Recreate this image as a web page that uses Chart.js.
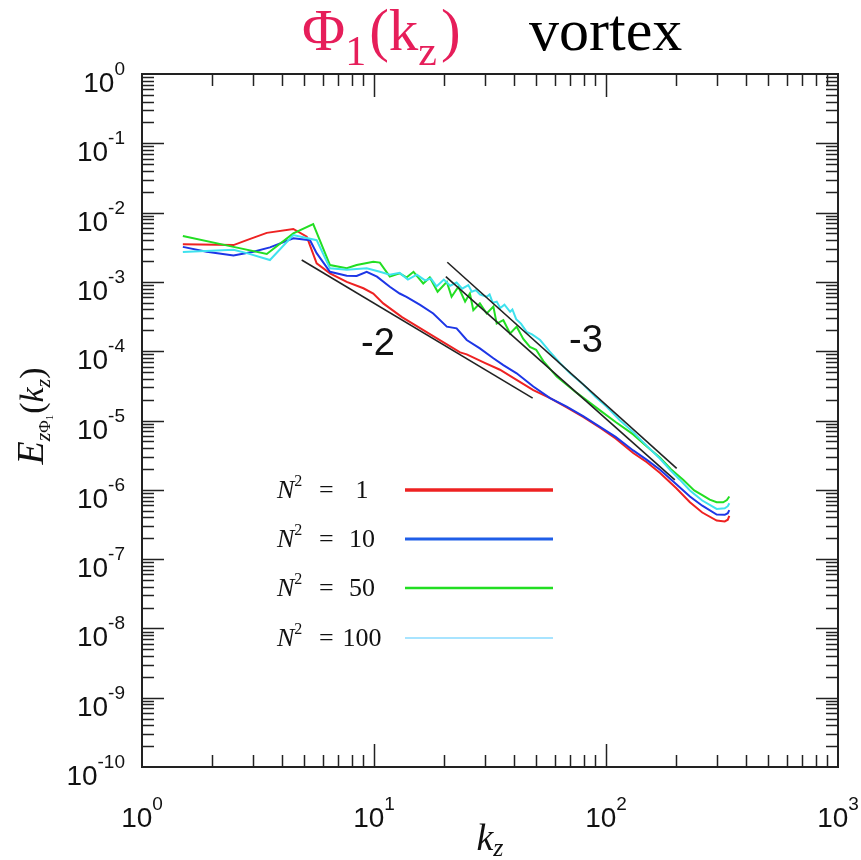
<!DOCTYPE html>
<html>
<head>
<meta charset="utf-8">
<script src="https://cdn.jsdelivr.net/npm/chart.js@4.4.1/dist/chart.umd.min.js"></script>
<style>
    html, body { margin: 0; padding: 0; background: #fff; }
    #wrap { width: 861px; height: 860px; }
</style>
</head>
<body>
<div id="wrap"><canvas id="spectrumChart" width="861" height="860"></canvas></div>
<script>
// Spectra (k_z, E)
const kRed = [1.5, 2.48, 2.83, 3.45, 4.49, 5.13, 5.66, 6.46, 7.63, 9.0, 9.93, 10.96, 13.2, 18.0, 23.5, 25.1, 30, 34.9, 41, 48.6, 57.4, 67.7, 80, 94.2, 110, 131, 150, 171, 201, 230, 260, 300, 325, 335, 340];
const eRed = [3.5e-3, 3.4e-3, 4.0e-3, 5.1e-3, 5.8e-3, 4.5e-3, 1.85e-3, 1.33e-3, 1.0e-3, 8.1e-4, 6.8e-4, 4.9e-4, 3.1e-4, 1.65e-4, 9.6e-5, 9.0e-5, 6.8e-5, 5.4e-5, 3.9e-5, 2.75e-5, 2.1e-5, 1.55e-5, 1.12e-5, 7.9e-6, 5.5e-6, 3.4e-6, 2.5e-6, 1.75e-6, 1.05e-6, 6.6e-7, 4.7e-7, 3.6e-7, 3.5e-7, 3.7e-7, 4.2e-7];

const kBlue = [1.5, 1.9, 2.48, 3.02, 3.56, 4.49, 5.3, 5.66, 6.46, 7.63, 8.42, 9.3, 10.3, 11.7, 12.9, 13.8, 15.8, 18.0, 20.6, 22.7, 25.1, 28.6, 32.7, 36.1, 41.2, 48.6, 57.4, 67.7, 80, 94.2, 110, 131, 150, 171, 201, 230, 260, 300, 325, 335, 340];
const eBlue = [3.2e-3, 2.73e-3, 2.4e-3, 2.73e-3, 3.15e-3, 4.25e-3, 4.0e-3, 2.6e-3, 1.4e-3, 1.23e-3, 1.22e-3, 1.4e-3, 1.19e-3, 8.5e-4, 6.8e-4, 6.1e-4, 4.65e-4, 3.5e-4, 2.26e-4, 2.14e-4, 1.45e-4, 1.1e-4, 7.9e-5, 6.3e-5, 4.8e-5, 3.1e-5, 2.1e-5, 1.58e-5, 1.15e-5, 8.1e-6, 5.8e-6, 3.7e-6, 2.7e-6, 1.95e-6, 1.2e-6, 8.0e-7, 5.9e-7, 4.4e-7, 4.35e-7, 4.6e-7, 5.1e-7];

const kGreen = [1.5, 2.48, 3.45, 4.49, 5.47, 6.46, 7.63, 8.42, 9.93, 10.6, 11.7, 12.9, 13.8, 14.8, 16.3, 17.4, 18.8, 20.6, 21.6, 23.1, 24.7, 25.9, 26.8, 28.6, 30.6, 32.7, 33.8, 36.1, 38.6, 41.2, 44, 47, 50, 53.7, 61.3, 74.8, 94.2, 110, 131, 150, 171, 190, 215, 240, 260, 280, 300, 320, 332, 340];
const eGreen = [4.6e-3, 3.2e-3, 2.53e-3, 5.0e-3, 6.8e-3, 1.75e-3, 1.57e-3, 1.75e-3, 1.96e-3, 1.9e-3, 1.19e-3, 1.33e-3, 1.16e-3, 1.4e-3, 9.5e-4, 1.16e-3, 7.2e-4, 1.0e-3, 6.1e-4, 8.5e-4, 5.2e-4, 6.8e-4, 3.9e-4, 4.9e-4, 3.5e-4, 4.4e-4, 2.5e-4, 2.8e-4, 1.8e-4, 2.26e-4, 1.5e-4, 1.15e-4, 1.05e-4, 7.2e-5, 4.3e-5, 2.5e-5, 1.4e-5, 9.5e-6, 6.3e-6, 4.2e-6, 2.9e-6, 2.0e-6, 1.4e-6, 9.8e-7, 8.4e-7, 7.2e-7, 6.6e-7, 6.6e-7, 7.1e-7, 8.0e-7];

const kCyan = [1.5, 2.48, 2.83, 3.56, 4.49, 5.66, 6.46, 7.63, 9.3, 10.6, 11.7, 12.9, 14.0, 15.3, 16.6, 17.6, 18.6, 20.0, 21.3, 22.7, 24.0, 25.5, 26.4, 27.5, 28.6, 30.6, 31.5, 32.5, 33.8, 35, 36.5, 38.6, 39.5, 41, 43, 45.5, 48, 52, 57, 63.4, 70, 79.8, 90, 100.7, 115, 131, 150, 171, 190, 208, 230, 260, 300, 325, 335, 340];
const eCyan = [2.7e-3, 2.9e-3, 2.6e-3, 2.07e-3, 4.75e-3, 4.0e-3, 1.57e-3, 1.5e-3, 1.57e-3, 1.4e-3, 1.27e-3, 1.35e-3, 1.08e-3, 1.27e-3, 1.05e-3, 1.12e-3, 8.6e-4, 1.08e-3, 8.8e-4, 9.8e-4, 8.0e-4, 9.0e-4, 7.2e-4, 7.6e-4, 6.6e-4, 6.1e-4, 6.6e-4, 5.0e-4, 5.2e-4, 4.2e-4, 4.7e-4, 3.7e-4, 4.0e-4, 2.9e-4, 2.5e-4, 1.9e-4, 1.75e-4, 1.45e-4, 1.0e-4, 6.7e-5, 4.8e-5, 3.3e-5, 2.2e-5, 1.58e-5, 1.0e-5, 6.8e-6, 4.3e-6, 2.8e-6, 1.9e-6, 1.4e-6, 9.8e-7, 7.0e-7, 5.3e-7, 5.4e-7, 5.8e-7, 6.4e-7];

// Power-law guide lines (end points)
const kSlope2 = [4.88, 48.3];
const eSlope2 = [2.07e-3, 2.1e-5];
const kSlope3a = [20.7, 201.7];
const eSlope3a = [1.92e-3, 2.04e-6];
const kSlope3b = [20.4, 198];
const eSlope3b = [1.19e-3, 1.39e-6];

// Axis ticks and legend
const xDecades = [0, 1, 2, 3];
const yDecades = [0, -1, -2, -3, -4, -5, -6, -7, -8, -9, -10];
const legendValues = ["1", "10", "50", "100"];
const slopeLabels = ["-2", "-3"];

const seriesColors = ["#ee2222", "#1d36e6", "#22de22", "#3fe2ee"];
const legendLineColors = ["#ee2222", "#1f5ee8", "#22de22", "#a8e4ff"];
const legendLineWidths = [3.5, 3, 2.5, 2];

const SANS = '"Liberation Sans", Arial, sans-serif';
const SERIF = '"Liberation Serif", "Times New Roman", serif';

function toPoints(ks, es) {
    return ks.map((k, i) => ({ x: k, y: es[i] }));
}

function lineSet(label, ks, es, color, width) {
    return {
        label: label,
        data: toPoints(ks, es),
        borderColor: color,
        borderWidth: width,
        pointRadius: 0,
        tension: 0,
        fill: false
    };
}

// Draw a run of text pieces with different fonts / offsets
function drawRuns(ctx, runs, x, y, align) {
    let total = 0;
    runs.forEach(r => {
        ctx.font = r.font;
        r.w = ctx.measureText(r.text).width;
        total += r.w + (r.gap || 0);
    });
    let cx = x;
    if (align === "center") cx = x - total / 2;
    if (align === "right") cx = x - total;
    runs.forEach(r => {
        ctx.font = r.font;
        ctx.fillStyle = r.color || "#111";
        ctx.fillText(r.text, cx, y + (r.dy || 0));
        cx += r.w + (r.gap || 0);
    });
    return total;
}

function powerRuns(exp) {
    return [
        { text: "10", font: "28px " + SANS },
        { text: String(exp), font: "19px " + SANS, dy: -17 }
    ];
}

// Frame, ticks, labels, title, legend
const decorPlugin = {
    id: "decor",
    afterDatasetsDraw(chart) {
        const ctx = chart.ctx;
        const a = chart.chartArea;
        const xs = chart.scales.x;
        const ys = chart.scales.y;
        ctx.save();
        ctx.textBaseline = "alphabetic";
        ctx.strokeStyle = "#222";
        ctx.lineCap = "butt";

        // ticks along x (bottom and top, pointing inward)
        ctx.lineWidth = 1.5;
        for (let d = 0; d < 3; d++) {
            for (let m = 1; m <= 9; m++) {
                const v = m * Math.pow(10, d);
                const px = Math.round(xs.getPixelForValue(v)) + 0.5;
                if (px <= a.left + 1) continue;
                const len = m === 1 ? 23 : 12;
                ctx.beginPath();
                ctx.moveTo(px, a.bottom); ctx.lineTo(px, a.bottom - len);
                ctx.moveTo(px, a.top); ctx.lineTo(px, a.top + len);
                ctx.stroke();
            }
        }
        // ticks along y (left and right)
        for (let d = -10; d < 0; d++) {
            for (let m = 1; m <= 9; m++) {
                const v = m * Math.pow(10, d);
                const py = Math.round(ys.getPixelForValue(v)) + 0.5;
                if (py >= a.bottom - 1) continue;
                const len = m === 1 ? 22 : 12;
                ctx.beginPath();
                ctx.moveTo(a.left, py); ctx.lineTo(a.left + len, py);
                ctx.moveTo(a.right, py); ctx.lineTo(a.right - len, py);
                ctx.stroke();
            }
        }

        // frame
        ctx.lineWidth = 2;
        ctx.strokeRect(a.left, a.top, a.right - a.left, a.bottom - a.top);

        // tick labels
        xDecades.forEach(d => {
            const px = xs.getPixelForValue(Math.pow(10, d));
            drawRuns(ctx, powerRuns(d), px, a.bottom + 60, "center");
        });
        yDecades.forEach(d => {
            const py = ys.getPixelForValue(Math.pow(10, d));
            drawRuns(ctx, powerRuns(d), a.left - 17, py + 18, "right");
        });

        // x axis title
        drawRuns(ctx, [
            { text: "k", font: "italic 38px " + SERIF },
            { text: "z", font: "italic 26px " + SERIF, dy: 6 }
        ], (a.left + a.right) / 2, 850, "center");

        // y axis title (rotated)
        ctx.save();
        ctx.translate(30, 416);
        ctx.rotate(-Math.PI / 2);
        drawRuns(ctx, [
            { text: "E", font: "italic 38px " + SERIF },
            { text: "z", font: "italic 22px " + SERIF, dy: 7 },
            { text: "\u03A6", font: "17px " + SERIF, dy: 7 },
            { text: "1", font: "11px " + SERIF, dy: 10, gap: 1 },
            { text: "(", font: "34px " + SERIF },
            { text: "k", font: "italic 34px " + SERIF },
            { text: "z", font: "italic 22px " + SERIF, dy: 7 },
            { text: ")", font: "34px " + SERIF }
        ], 0, 13, "center");
        ctx.restore();

        // title
        const red = "#e61e5a";
        drawRuns(ctx, [
            { text: "\u03A6", font: "59px " + SERIF, color: red },
            { text: "1", font: "42px " + SERIF, color: red, dy: 15, gap: 3 },
            { text: "(k", font: "59px " + SERIF, color: red },
            { text: "z", font: "42px " + SERIF, color: red, dy: 15, gap: 4 },
            { text: ")", font: "59px " + SERIF, color: red }
        ], 302, 50, "left");
        drawRuns(ctx, [{ text: "vortex", font: "60px " + SERIF, color: "#000" }], 529, 50, "left");

        // slope labels
        drawRuns(ctx, [{ text: slopeLabels[0], font: "38px " + SANS }], 378, 355, "center");
        drawRuns(ctx, [{ text: slopeLabels[1], font: "38px " + SANS }], 586, 352, "center");

        // legend
        const rows = [490, 539, 588, 638];
        legendValues.forEach((val, i) => {
            const y = rows[i];
            drawRuns(ctx, [
                { text: "N", font: "italic 26px " + SERIF },
                { text: "2", font: "16px " + SERIF, dy: -12 }
            ], 277, y + 8, "left");
            drawRuns(ctx, [{ text: "=", font: "26px " + SERIF }], 319, y + 8, "left");
            drawRuns(ctx, [{ text: val, font: "26px " + SERIF }], 362, y + 8, "center");
            ctx.strokeStyle = legendLineColors[i];
            ctx.lineWidth = legendLineWidths[i];
            ctx.beginPath();
            ctx.moveTo(405, y);
            ctx.lineTo(553, y);
            ctx.stroke();
        });

        ctx.restore();
    }
};

const ctx = document.getElementById("spectrumChart").getContext("2d");

new Chart(ctx, {
    type: "line",
    data: {
        datasets: [
            lineSet("slope -2", kSlope2, eSlope2, "#222", 1.6),
            lineSet("slope -3 a", kSlope3a, eSlope3a, "#222", 1.6),
            lineSet("slope -3 b", kSlope3b, eSlope3b, "#222", 1.6),
            lineSet("N2 = 100", kCyan, eCyan, seriesColors[3], 2),
            lineSet("N2 = 50", kGreen, eGreen, seriesColors[2], 2),
            lineSet("N2 = 10", kBlue, eBlue, seriesColors[1], 2),
            lineSet("N2 = 1", kRed, eRed, seriesColors[0], 2)
        ]
    },
    options: {
        responsive: false,
        devicePixelRatio: 1,
        animation: false,
        layout: {
            padding: { left: 142, right: 23, top: 74, bottom: 93 }
        },
        plugins: {
            legend: { display: false },
            tooltip: { enabled: false }
        },
        scales: {
            x: { type: "logarithmic", min: 1, max: 1000, display: false },
            y: { type: "logarithmic", min: 1e-10, max: 1, display: false }
        }
    },
    plugins: [decorPlugin]
});
</script>
</body>
</html>
